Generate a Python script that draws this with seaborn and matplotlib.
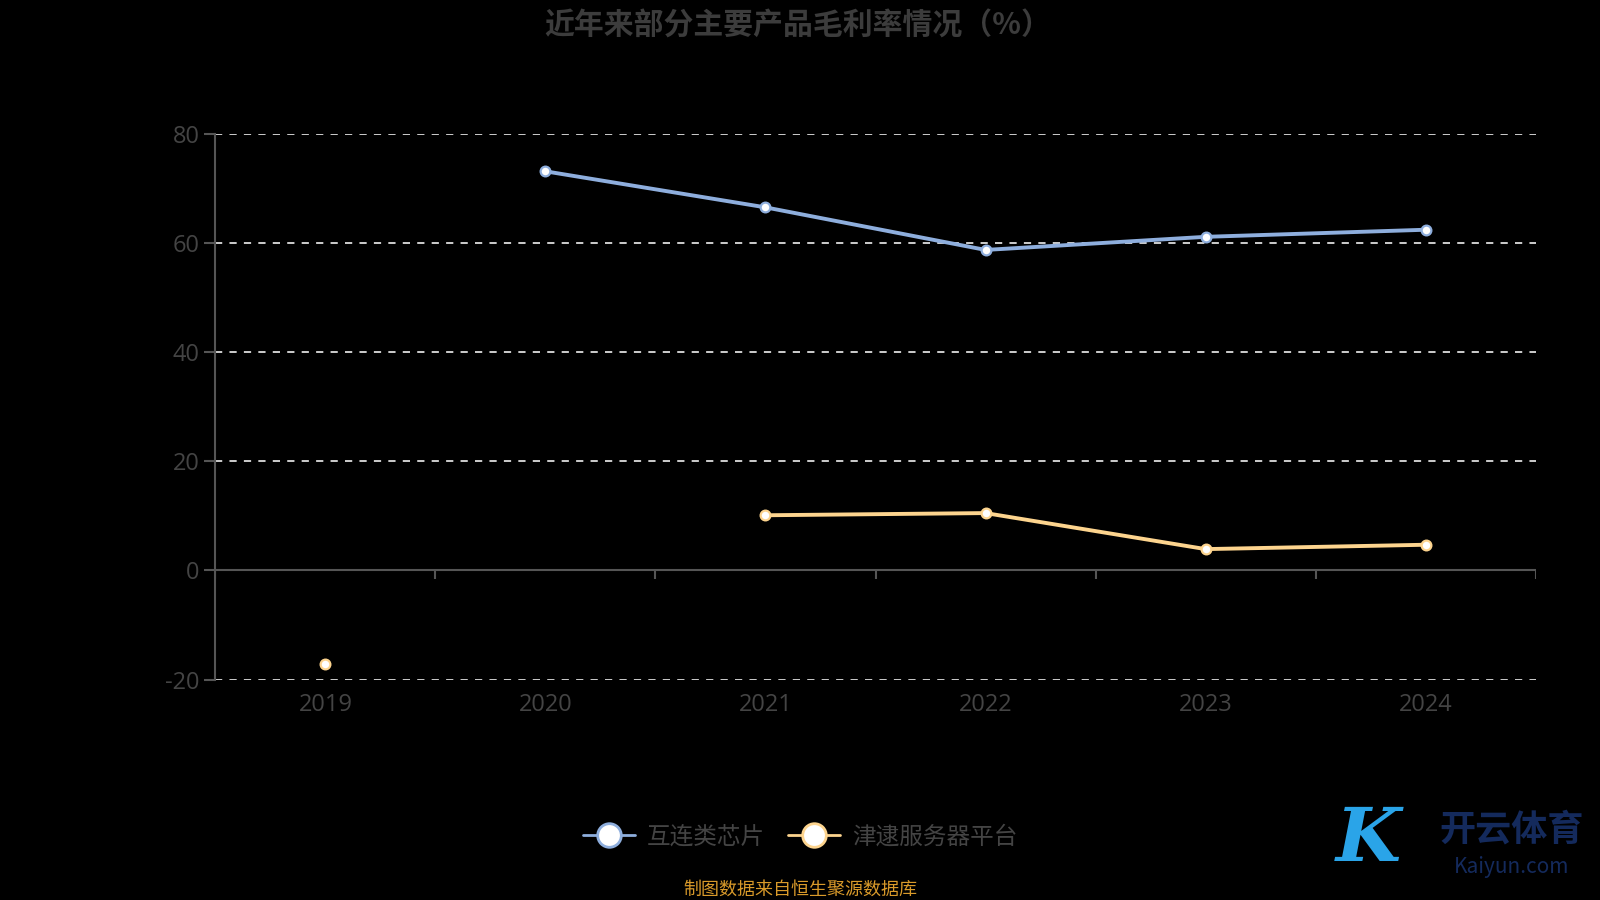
import matplotlib
matplotlib.use('Agg')
import matplotlib.pyplot as plt
from matplotlib.lines import Line2D
import seaborn as sns
import numpy as np
import pandas as pd

# data
years = ['2019', '2020', '2021', '2022', '2023', '2024']
chip = [np.nan, 73.1, 66.5, 58.7, 61.1, 62.4]        # 互连类芯片
server = [-17.2, np.nan, 10.1, 10.5, 3.9, 4.7]       # 津逮服务器平台
series_names = ['互连类芯片', '津逮服务器平台']
colors = ['#8eaedd', '#fdd48e']

sns.set_theme(style='dark')
plt.rcParams['font.family'] = ['Noto Sans CJK SC', 'DejaVu Sans']
plt.rcParams['axes.unicode_minus'] = False


def to_rows(name, values):
    # split into contiguous segments so NaN gaps break the line
    rows = []
    seg = 0
    for i, v in enumerate(values):
        if np.isnan(v):
            seg += 1
            continue
        rows.append({'idx': i, 'value': v, 'series': name, 'seg': seg})
    return rows


df = pd.DataFrame(to_rows(series_names[0], chip) + to_rows(series_names[1], server))

fig = plt.figure(figsize=(16, 9), dpi=100, facecolor='black')
ax = fig.add_axes([0.1346, 0.2449, 0.8252, 0.6066])
ax.set_facecolor('black')

sns.lineplot(data=df, x='idx', y='value', hue='series', units='seg',
             estimator=None, palette=dict(zip(series_names, colors)),
             hue_order=series_names, marker='o', markersize=7,
             markerfacecolor='white', markeredgewidth=1.6, linewidth=2.8,
             legend=False, ax=ax, zorder=3)
for line in ax.get_lines():
    line.set_markeredgecolor(line.get_color())

n = len(years)
ax.set_xlim(-0.5, n - 0.5)
ax.set_ylim(-20, 80)
ax.set_yticks([-20, 0, 20, 40, 60, 80])
ax.set_xticks(range(n))
ax.set_xticklabels(years)
ax.set_xlabel('')
ax.set_ylabel('')

# dashed grid lines, solid zero line
for yv in [-20, 20, 40, 60, 80]:
    ax.axhline(yv, color='#dddddd', lw=1.3, ls=(0, (4, 4)), zorder=1)
ax.axhline(0, color='#555555', lw=1.5, zorder=2)
ax.vlines(np.arange(n + 1) - 0.5, -1.6, 0, color='#555555', lw=1.5, zorder=2)

ax.grid(False)
for s in ['top', 'right', 'bottom']:
    ax.spines[s].set_visible(False)
ax.spines['left'].set_color('#555555')
ax.spines['left'].set_linewidth(1.5)
ax.tick_params(axis='y', colors='#555555', labelcolor='#444444', labelsize=17,
               length=8, width=1.5, direction='out', left=True)
ax.tick_params(axis='x', length=0, labelcolor='#444444', labelsize=17, pad=10)
for lab in ax.get_xticklabels() + ax.get_yticklabels():
    lab.set_family(['Open Sans', 'DejaVu Sans'])

fig.text(0.4985, 0.972, '近年来部分主要产品毛利率情况（%）', ha='center', va='center',
         fontsize=21.5, fontweight='bold', color='#3c3c3c')

handles = [Line2D([0], [0], color=c, lw=2, marker='o', markersize=17,
                  markerfacecolor='white', markeredgecolor=c, markeredgewidth=2)
           for c in colors]
leg = fig.legend(handles, series_names, loc='center', bbox_to_anchor=(0.5, 0.07),
                 ncol=2, frameon=False, fontsize=17, handlelength=2.2,
                 columnspacing=1.0, handletextpad=0.5)
for t in leg.get_texts():
    t.set_color('#444444')

fig.text(0.5, 0.012, '制图数据来自恒生聚源数据库', ha='center', va='center',
         fontsize=13, color='#d99a2a')

# watermark logo (text only)
fig.text(0.855, 0.066, 'K', ha='center', va='center', fontsize=54,
         fontstyle='italic', fontweight='bold', color='#2aa4e8', family='DejaVu Serif')
fig.text(0.945, 0.078, '开云体育', ha='center', va='center', fontsize=26,
         fontweight='bold', color='#142a5c')
fig.text(0.945, 0.037, 'Kaiyun.com', ha='center', va='center', fontsize=15,
         color='#142a5c')

fig.savefig('out.png', dpi=100, facecolor='black')
